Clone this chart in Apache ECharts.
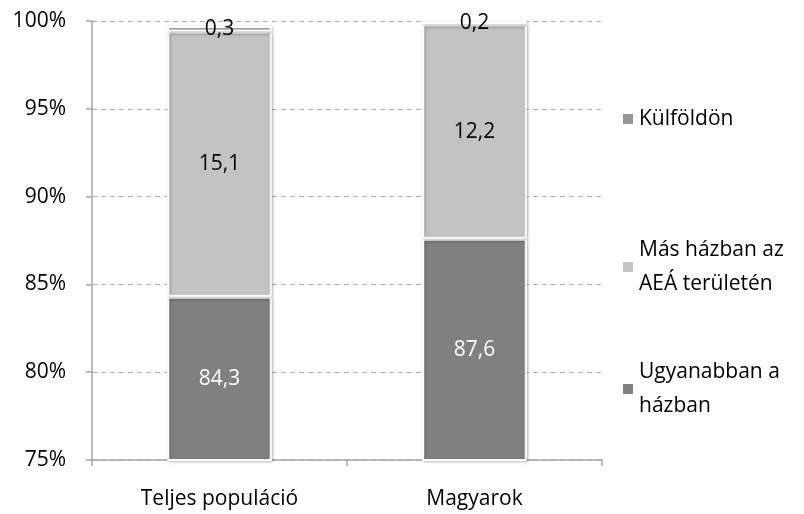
<!DOCTYPE html>
<html>
<head>
<meta charset="utf-8">
<script src="https://cdn.jsdelivr.net/npm/echarts@6/dist/echarts.min.js"></script>
<style>
  html, body { margin: 0; padding: 0; background: #fff; }
  #chart { width: 804px; height: 514px; }
</style>
</head>
<body>
<div id="chart"></div>
<script>
// kategóriák és értékek (%)
var categories = ["Teljes populáció", "Magyarok"];
var ugyanabban = [84.3, 87.6];
var masHazban = [15.1, 12.2];
var kulfoldon = [0.3, 0.2];
var yTicks = [75, 80, 85, 90, 95, 100];

var seriesNames = ["Ugyanabban a\nházban", "Más házban az\nAEÁ területén", "Külföldön"];
var font = "Open Sans";
var fs = 21;

function fmt(p) {
  return p.value.toFixed(1).replace(".", ",");
}

var chart = echarts.init(document.getElementById("chart"));

var barStyle = function (color) {
  return {
    color: color,
    borderColor: "#fff",
    borderWidth: 2,
    shadowBlur: 3,
    shadowColor: "rgba(0,0,0,0.25)",
    shadowOffsetX: 1,
    shadowOffsetY: 1
  };
};

var labelStyle = function (color) {
  return {
    show: true,
    position: "inside",
    formatter: fmt,
    color: color,
    fontFamily: font,
    fontSize: fs
  };
};

var legendBase = {
  orient: "vertical",
  left: 621,
  padding: 0,
  icon: "rect",
  itemWidth: 12,
  itemHeight: 12,
  itemGap: 6,
  textStyle: { fontFamily: font, fontSize: fs, color: "#000", lineHeight: 34 }
};

var option = {
  animation: false,
  grid: { left: 92, right: 202, top: 21, bottom: 54 },
  legend: [
    Object.assign({}, legendBase, { top: 102, data: [seriesNames[2]] }),
    Object.assign({}, legendBase, {
      top: 216,
      data: [seriesNames[1]],
      textStyle: Object.assign({}, legendBase.textStyle, { padding: [34, 0, 0, 0] })
    }),
    Object.assign({}, legendBase, {
      top: 338,
      data: [seriesNames[0]],
      textStyle: Object.assign({}, legendBase.textStyle, { padding: [34, 0, 0, 0] })
    })
  ],
  xAxis: {
    type: "category",
    data: categories,
    axisLine: { lineStyle: { color: "#a6a6a6", width: 1.5 } },
    axisTick: { show: true, length: 6, lineStyle: { color: "#a6a6a6", width: 1.5 } },
    axisLabel: { fontFamily: font, fontSize: fs, color: "#000", margin: 29 }
  },
  yAxis: {
    type: "value",
    min: yTicks[0],
    max: yTicks[yTicks.length - 1],
    interval: 5,
    axisLine: { show: true, lineStyle: { color: "#a6a6a6", width: 1.5 } },
    axisTick: { show: true, length: 6, lineStyle: { color: "#a6a6a6", width: 1.5 } },
    axisLabel: {
      fontFamily: font,
      fontSize: fs,
      color: "#000",
      margin: 26,
      formatter: function (v) { return v + "%"; }
    },
    splitLine: { show: true, lineStyle: { color: "#b0b0b0", type: [5, 4], width: 1 } }
  },
  series: [
    {
      name: seriesNames[0],
      type: "bar",
      stack: "total",
      barWidth: "41%",
      data: ugyanabban,
      itemStyle: barStyle("#808080"),
      label: labelStyle("#fff")
    },
    {
      name: seriesNames[1],
      type: "bar",
      stack: "total",
      data: masHazban,
      itemStyle: barStyle("#c3c3c3"),
      label: labelStyle("#000")
    },
    {
      name: seriesNames[2],
      type: "bar",
      stack: "total",
      data: kulfoldon,
      itemStyle: barStyle("#969696"),
      label: labelStyle("#000")
    }
  ]
};

chart.setOption(option);
</script>
</body>
</html>
